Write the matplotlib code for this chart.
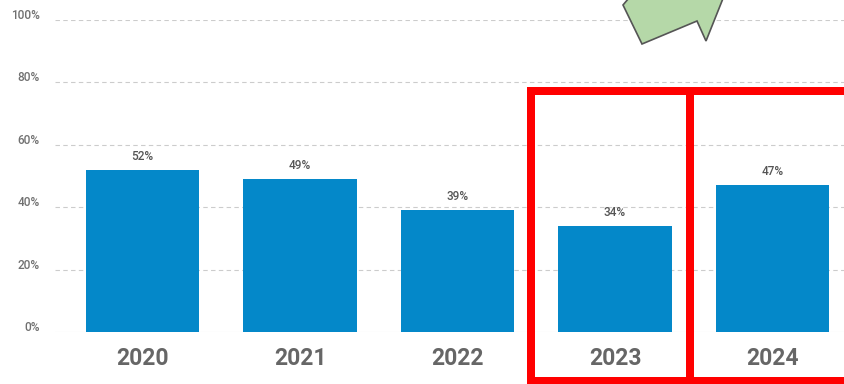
import matplotlib
matplotlib.use("Agg")
import matplotlib.pyplot as plt
from matplotlib.patches import Polygon, Rectangle
from matplotlib.transforms import ScaledTranslation

plt.rcParams["font.family"] = ["Roboto", "DejaVu Sans"]

years = ["2020", "2021", "2022", "2023", "2024"]
values = [52, 49, 39, 34, 47]
yticks = [0, 20, 40, 60, 80, 100]
ytick_labels = ["0%", "20%", "40%", "60%", "80%", "100%"]

W, H = 844, 384
fig = plt.figure(figsize=(W / 100, H / 100), dpi=100)
ax = fig.add_axes([55 / W, 52 / H, 1 - 55 / W, 312 / H])

x = list(range(len(years)))
ax.bar(x, values, width=0.72, color="#0488c9", zorder=3)
ax.set_xlim(-0.556, 4.454)
ax.set_ylim(0, 100)

ax.set_yticks(yticks)
ax.set_yticklabels(ytick_labels, fontsize=8.5, color="#707070", fontweight="medium")
ax.tick_params(axis="y", length=0, pad=11)
off = ScaledTranslation(0, 6 / 100, fig.dpi_scale_trans)
for lab in ax.get_yticklabels():
    lab.set_transform(lab.get_transform() + off)

ax.set_xticks(x)
ax.set_xticklabels(years, fontsize=16.5, fontweight="bold", color="#666666")
ax.tick_params(axis="x", length=0, pad=11)

for yv in yticks[1:]:
    ax.axhline(yv, color="#cccccc", linestyle=(0, (4, 3)), linewidth=0.8, zorder=1)
ax.axhline(0, color="#e0e0e0", linewidth=0.8, zorder=1)

for s in ax.spines.values():
    s.set_visible(False)

for xi, v in zip(x, values):
    ax.annotate(f"{v}%", (xi, v), xytext=(0, 5), textcoords="offset points",
                ha="center", va="bottom", fontsize=8.5, color="#555555",
                fontweight="medium")

def P(px, py):
    return (px / W, 1 - py / H)

# red highlight boxes
lw_pt = 8 * 0.72
fig.patches.append(Rectangle(P(530.5, 381), (689.5 - 530.5) / W, (381 - 91) / H,
                             transform=fig.transFigure, fill=False,
                             edgecolor="#ff0000", linewidth=lw_pt))
fig.patches.append(Rectangle(P(689.5, 381), (852 - 689.5) / W, (381 - 91) / H,
                             transform=fig.transFigure, fill=False,
                             edgecolor="#ff0000", linewidth=lw_pt))

# green arrow (partially cropped)
pts = [P(623, 5), P(642, 44), P(697, 21), P(706, 41), P(724, -4), P(700, -30), P(640, -15)]
fig.patches.append(Polygon(pts, closed=True, transform=fig.transFigure,
                           facecolor="#b5d8a8", edgecolor="#555555", linewidth=1.2))

fig.savefig("out.png", dpi=100)
